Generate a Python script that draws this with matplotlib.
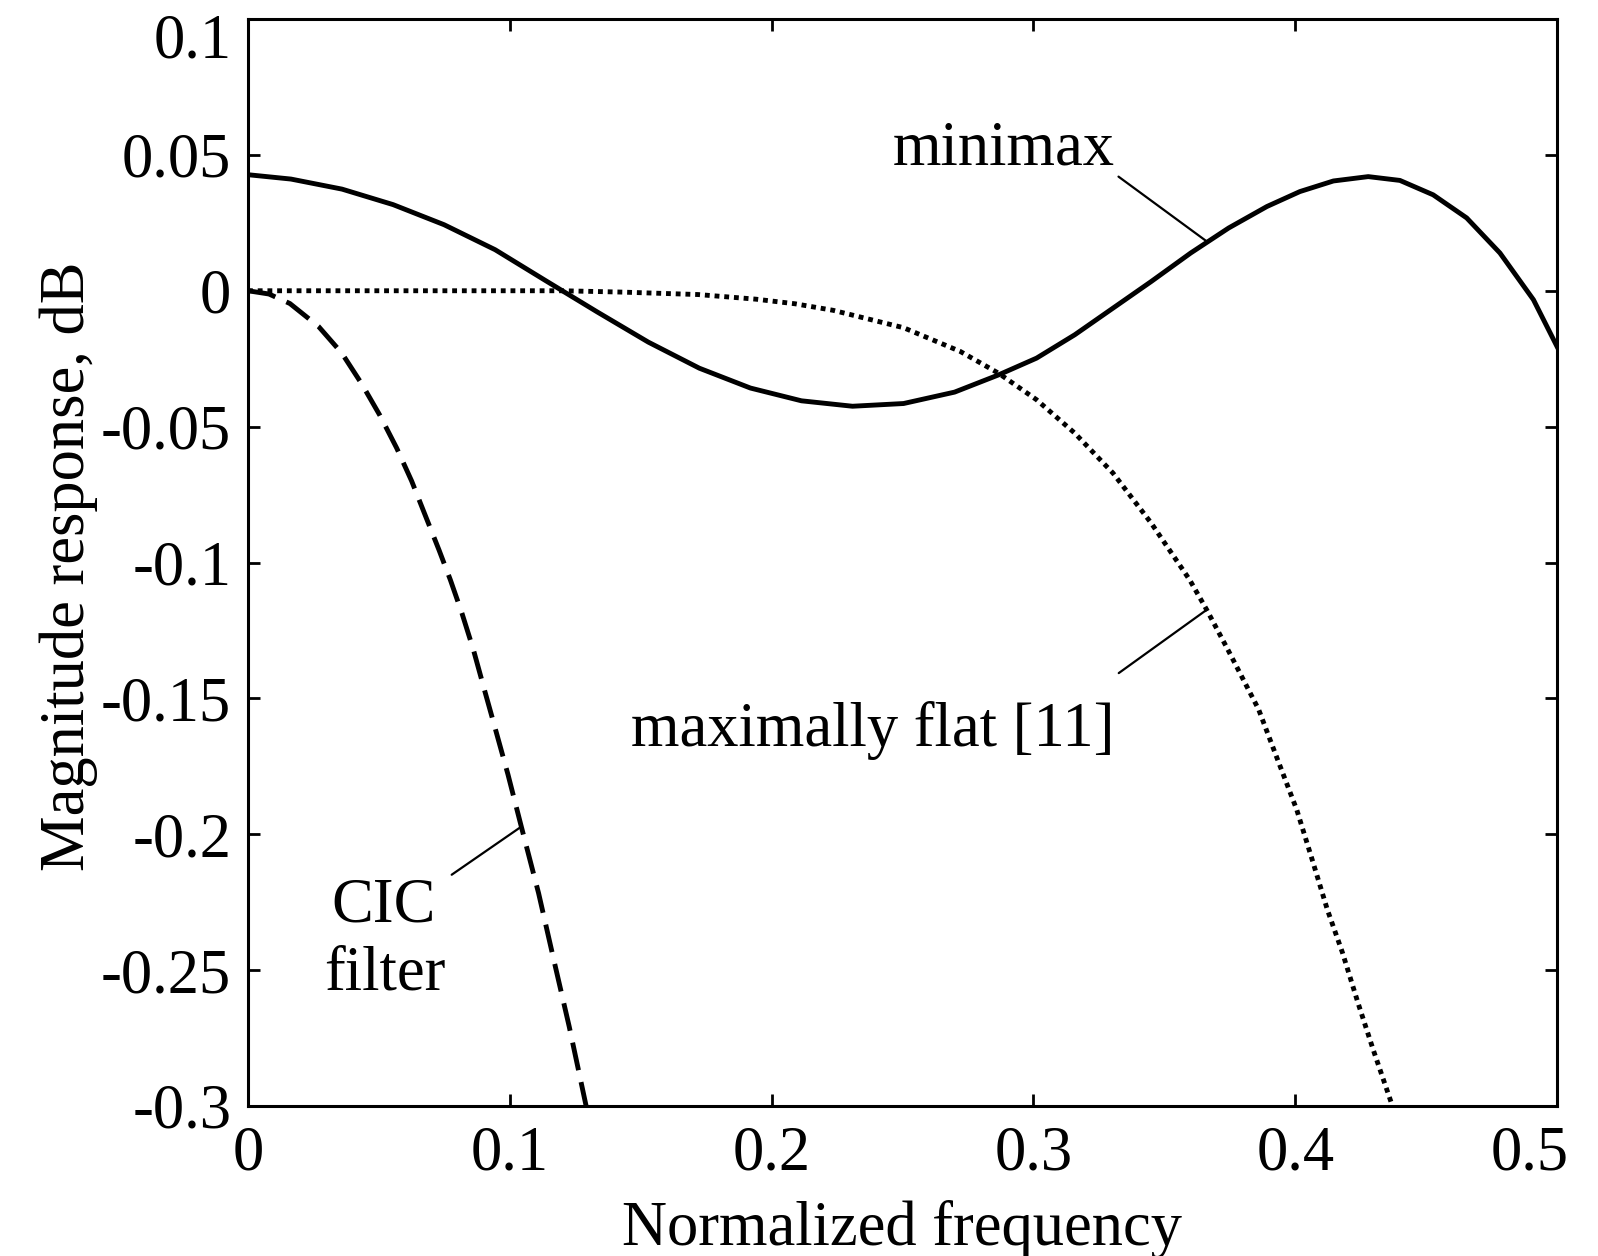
import numpy as np
import matplotlib
matplotlib.use("Agg")
import matplotlib.pyplot as plt
from matplotlib.transforms import ScaledTranslation

plt.rcParams['font.family'] = ['Liberation Serif', 'DejaVu Serif']
plt.rcParams['axes.unicode_minus'] = False

# values (normalized frequency, dB)
minimax_f = [0, 0.0164, 0.0359, 0.0554, 0.0749, 0.0944, 0.1139, 0.1334, 0.1529,
             0.1724, 0.1919, 0.2114, 0.2309, 0.2504, 0.2699, 0.2866, 0.3012,
             0.3158, 0.3304, 0.345, 0.3601, 0.3746, 0.3892, 0.4018, 0.4146,
             0.4279, 0.44, 0.4527, 0.4655, 0.4782, 0.491, 0.5]
minimax_db = [0.0427, 0.0411, 0.0374, 0.0317, 0.0243, 0.0151, 0.0036, -0.0078,
              -0.0189, -0.0285, -0.0358, -0.0405, -0.0425, -0.0415, -0.0373,
              -0.0310, -0.0248, -0.0162, -0.0064, 0.0034, 0.0139, 0.0231, 0.0310,
              0.0365, 0.0404, 0.0420, 0.0406, 0.0353, 0.0268, 0.0139, -0.0033,
              -0.0205]

maxflat_f = [0, 0.05, 0.10, 0.12, 0.143, 0.172, 0.194, 0.209, 0.2235, 0.2504,
             0.272, 0.2866, 0.3012, 0.3158, 0.3304, 0.345, 0.3597, 0.3662,
             0.3743, 0.386, 0.3933, 0.4006, 0.4065, 0.4123, 0.4181, 0.424,
             0.4298, 0.4372]
maxflat_db = [0, 0, 0, 0, -0.0005, -0.0014, -0.0031, -0.0048, -0.0072, -0.0136,
              -0.0223, -0.0303, -0.0401, -0.0524, -0.0671, -0.0855, -0.1064,
              -0.1174, -0.1321, -0.154, -0.1726, -0.191, -0.2094, -0.2278,
              -0.2437, -0.2621, -0.2793, -0.3002]

cic_f = [0, 0.008, 0.016, 0.0269, 0.0358, 0.0434, 0.0504, 0.0568, 0.0625,
         0.0676, 0.073, 0.0773, 0.0817, 0.0861, 0.0905, 0.0934, 0.0993, 0.1044,
         0.111, 0.1168, 0.1227, 0.1292]
cic_db = [0, -0.0012, -0.0047, -0.0131, -0.0229, -0.0342, -0.0459, -0.0579,
          -0.0700, -0.0824, -0.0955, -0.1064, -0.1186, -0.1321, -0.1475,
          -0.1575, -0.1780, -0.1972, -0.2217, -0.2462, -0.2708, -0.3002]

xticks = [0, 0.1, 0.2, 0.3, 0.4, 0.5]
xtick_labels = ['0', '0.1', '0.2', '0.3', '0.4', '0.5']
yticks = [0.1, 0.05, 0, -0.05, -0.1, -0.15, -0.2, -0.25, -0.3]
ytick_labels = ['0.1', '0.05', '0', '-0.05', '-0.1', '-0.15', '-0.2', '-0.25', '-0.3']

FS = 45

fig = plt.figure(figsize=(15.98, 12.56), dpi=100)
ax = fig.add_axes([248 / 1598, 1 - 1106 / 1256, 1309 / 1598, 1087 / 1256])

ax.plot(minimax_f, minimax_db, color='black', lw=3.5, solid_joinstyle='round')
ax.plot(maxflat_f, maxflat_db, color='black', lw=3.5, linestyle=(0, (1, 1)),
        dash_capstyle='butt')
ax.plot(cic_f, cic_db, color='black', lw=3.5, linestyle=(0, (5.8, 2.5)),
        dash_capstyle='butt')

ax.set_xlim(0, 0.5)
ax.set_ylim(-0.3, 0.1)
ax.set_xticks(xticks)
ax.set_xticklabels(xtick_labels)
ax.set_yticks(yticks)
ax.set_yticklabels(ytick_labels)
ax.tick_params(direction='in', length=8.6, width=2.0, labelsize=FS,
               top=True, right=True)
ax.tick_params(axis='x', pad=14)
ax.tick_params(axis='y', pad=12)
for sp in ax.spines.values():
    sp.set_linewidth(2.2)

# like the original, the end labels are nudged inside the figure
top_lab = ax.yaxis.get_major_ticks()[0].label1
top_lab.set_transform(top_lab.get_transform()
                      + ScaledTranslation(0, -0.16, fig.dpi_scale_trans))
end_lab = ax.xaxis.get_major_ticks()[-1].label1
end_lab.set_transform(end_lab.get_transform()
                      + ScaledTranslation(-0.27, 0, fig.dpi_scale_trans))

# labels with leader lines
def leader(f_at, f_arr, db_arr, start):
    pt = (f_at, np.interp(f_at, f_arr, db_arr))
    ax.annotate('', xy=pt, xytext=start,
                arrowprops=dict(arrowstyle='-', lw=1.6, color='black',
                                shrinkA=0, shrinkB=0))

ax.text(0.2888, 0.0464, 'minimax', fontsize=FS, ha='center', va='baseline')
leader(0.3665, minimax_f, minimax_db, (0.3325, 0.042))

ax.text(0.2387, -0.1677, 'maximally flat [11]', fontsize=FS, ha='center',
        va='baseline')
leader(0.3662, maxflat_f, maxflat_db, (0.3326, -0.1407))

ax.text(0.0518, -0.2321, 'CIC', fontsize=FS, ha='center', va='baseline')
ax.text(0.0524, -0.2573, 'filter', fontsize=FS, ha='center', va='baseline')
leader(0.1044, cic_f, cic_db, (0.0778, -0.2149))

fig.text(902.5 / 1598, 1 - 1245 / 1256, 'Normalized frequency', fontsize=FS,
         ha='center', va='baseline')
fig.text(69 / 1598, 1 - 566 / 1256, 'Magnitude response, dB', fontsize=FS,
         rotation=90, ha='center', va='center')

fig.savefig('out.png', dpi=100)
